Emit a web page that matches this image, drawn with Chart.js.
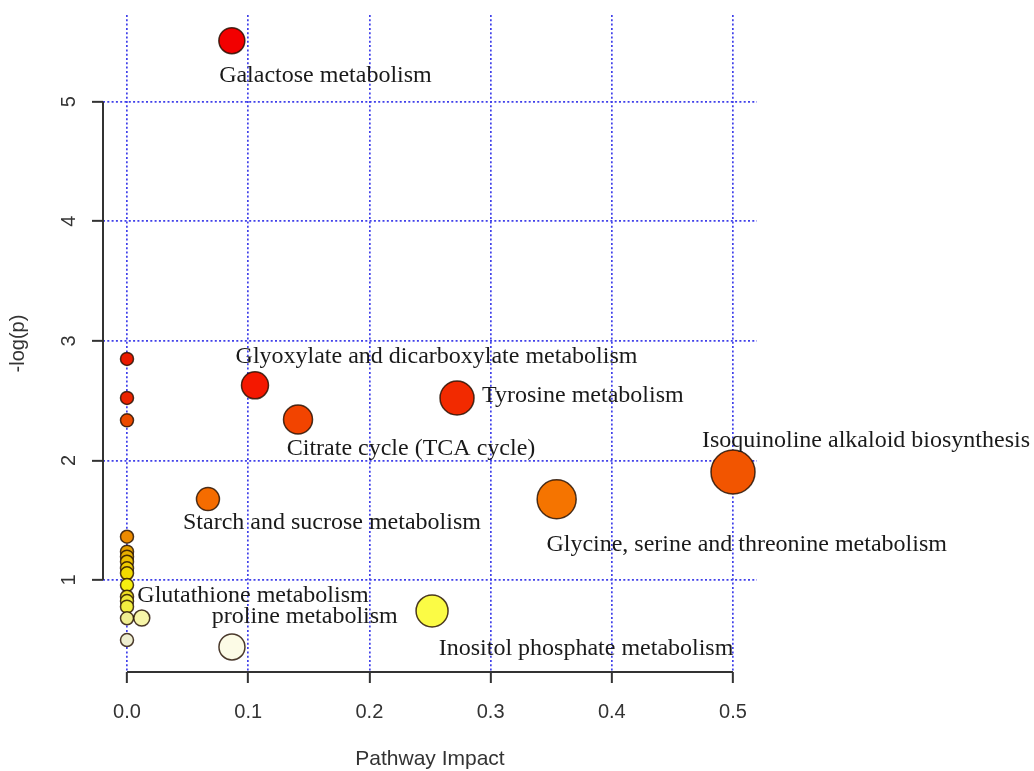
<!DOCTYPE html>
<html><head><meta charset="utf-8">
<script src="https://cdn.jsdelivr.net/npm/chart.js@4.4.0/dist/chart.umd.min.js"></script>
<style>html,body{margin:0;padding:0;background:#fff;}</style>
</head><body>
<canvas id="c" width="1034" height="771"></canvas>
<script>
// ---- data ----
const pathwayNames = [
  'Galactose metabolism', '', 'Glyoxylate and dicarboxylate metabolism', '', 'Tyrosine metabolism',
  'Citrate cycle (TCA cycle)', '', 'Isoquinoline alkaloid biosynthesis', 'Starch and sucrose metabolism',
  'Glycine, serine and threonine metabolism', '', '', '', '', '', '', 'Glutathione metabolism', '', '', '',
  'Inositol phosphate metabolism', '', 'proline metabolism', '', ''
];
const pathwayImpact = [
  0.0865, 0, 0.1056, 0, 0.2723,
  0.1411, 0, 0.5, 0.0668,
  0.3545, 0, 0, 0, 0, 0, 0, 0, 0, 0, 0,
  0.2517, 0, 0.0122, 0, 0.0866
];
const negLogP = [
  5.51, 2.849, 2.628, 2.523, 2.522,
  2.342, 2.335, 1.903, 1.677,
  1.675, 1.362, 1.237, 1.195, 1.153, 1.098, 1.056, 0.958, 0.860, 0.824, 0.777,
  0.741, 0.680, 0.682, 0.498, 0.44
];
const bubbleSize = [
  13, 6.5, 13.5, 6.5, 17,
  14.5, 6.5, 22, 11.5,
  19.5, 6.5, 6.5, 6.5, 6.5, 6.5, 6.5, 6.5, 6.5, 6.5, 6.5,
  16, 6.5, 8, 6.5, 13
];
const xTickValues = [0, 0.1, 0.2, 0.3, 0.4, 0.5];
const yTickValues = [1, 2, 3, 4, 5];

// ---- styles ----
const fillColors = [
  '#f20000', '#ea1a00', '#f41800', '#ec2400', '#f22a00',
  '#f24400', '#ec4a00', '#f25500', '#f56c00',
  '#f57400', '#ec8a00', '#e4a000', '#e8b000', '#ecc000', '#efcc00', '#f2da00', '#f5ee10', '#eede20', '#f0e838', '#f2ee40',
  '#fbfb45', '#f0ee90', '#f7f5a8', '#eeeed0', '#fcfbe6'
];
// label placement: offsets in px from the bubble centre (text baseline)
const labelOffsets = {
  'Galactose metabolism': [93.6, 41.3, 'center'],
  'Glyoxylate and dicarboxylate metabolism': [181.5, -22.3, 'center'],
  'Tyrosine metabolism': [25, 4, 'left'],
  'Citrate cycle (TCA cycle)': [113, 35.5, 'center'],
  'Isoquinoline alkaloid biosynthesis': [133, -25, 'center'],
  'Glycine, serine and threonine metabolism': [190, 52, 'center'],
  'Starch and sucrose metabolism': [124, 30, 'center'],
  'Glutathione metabolism': [126, 16.7, 'center'],
  'proline metabolism': [163, 5, 'center'],
  'Inositol phosphate metabolism': [154, 44, 'center']
};

const points = pathwayImpact.map((x, i) => ({x: x, y: negLogP[i], r: bubbleSize[i]}));

const axisLines = {
  id: 'axisLines',
  beforeDatasetsDraw(chart) {
    const {ctx, chartArea, scales} = chart;
    const xs = scales.x, ys = scales.y;
    ctx.save();
    ctx.strokeStyle = '#333';
    ctx.lineWidth = 2;
    ctx.beginPath();
    ctx.moveTo(chartArea.left, ys.getPixelForValue(yTickValues[0]));
    ctx.lineTo(chartArea.left, ys.getPixelForValue(yTickValues[yTickValues.length - 1]));
    ctx.moveTo(xs.getPixelForValue(xTickValues[0]), chartArea.bottom);
    ctx.lineTo(xs.getPixelForValue(xTickValues[xTickValues.length - 1]), chartArea.bottom);
    ctx.stroke();
    ctx.restore();
  }
};

const pointLabels = {
  id: 'pointLabels',
  afterDatasetsDraw(chart) {
    const {ctx, scales} = chart;
    ctx.save();
    ctx.font = "24px 'Liberation Serif'";
    ctx.fillStyle = '#1a1a1a';
    ctx.textBaseline = 'alphabetic';
    pathwayNames.forEach((name, i) => {
      if (!name) return;
      const off = labelOffsets[name];
      const px = scales.x.getPixelForValue(pathwayImpact[i]);
      const py = scales.y.getPixelForValue(negLogP[i]);
      ctx.textAlign = off[2];
      ctx.fillText(name, px + off[0], py + off[1]);
    });
    ctx.restore();
  }
};

const gridBlue = '#4040ea';
new Chart(document.getElementById('c'), {
  type: 'bubble',
  data: {
    datasets: [{
      data: points,
      backgroundColor: fillColors,
      borderColor: 'rgba(35,15,0,0.82)',
      borderWidth: 1.5,
      hoverBorderWidth: 1.5,
      clip: false
    }]
  },
  options: {
    responsive: false,
    animation: false,
    devicePixelRatio: 1,
    layout: {autoPadding: false, padding: {top: 15, right: 277, bottom: 0, left: 0}},
    plugins: {legend: {display: false}, tooltip: {enabled: false}},
    scales: {
      x: {
        type: 'linear',
        min: -0.0198, max: 0.5198,
        afterBuildTicks: s => { s.ticks = xTickValues.map(v => ({value: v})); },
        afterFit: s => { s.height = 99; s.paddingLeft = 0; s.paddingRight = 0; },
        grid: {color: gridBlue, lineWidth: 1.7, drawTicks: true, tickLength: 11, tickColor: '#333', tickWidth: 2},
        border: {display: false, dash: [2, 2.3]},
        ticks: {
          callback: v => v.toFixed(1),
          font: {family: 'Liberation Sans', size: 20},
          color: '#333', padding: 17, maxRotation: 0, autoSkip: false
        },
        title: {display: true, text: 'Pathway Impact', font: {family: 'Liberation Sans', size: 21}, color: '#333', padding: {top: 0, bottom: -1}}
      },
      y: {
        type: 'linear',
        min: 0.2306, max: 5.725,
        afterBuildTicks: s => { s.ticks = yTickValues.map(v => ({value: v})); },
        afterFit: s => { s.width = 103; s.paddingTop = 0; s.paddingBottom = 0; },
        grid: {color: gridBlue, lineWidth: 1.7, drawTicks: true, tickLength: 11, tickColor: '#333', tickWidth: 2},
        border: {display: false, dash: [2, 2.3]},
        ticks: {
          callback: v => String(v),
          font: {family: 'Liberation Sans', size: 20},
          color: '#333', padding: 17, minRotation: 90, maxRotation: 90, crossAlign: 'center', autoSkip: false
        },
        title: {display: true, text: '-log(p)', font: {family: 'Liberation Sans', size: 20}, color: '#333', padding: {top: 6, bottom: 0}}
      }
    }
  },
  plugins: [axisLines, pointLabels]
});
</script>
</body></html>
